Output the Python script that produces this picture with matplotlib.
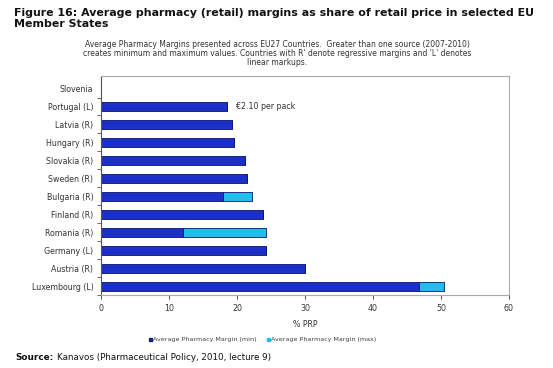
import matplotlib
matplotlib.use('Agg')
import matplotlib.pyplot as plt
import numpy as np

# Données (du bas vers le haut)
pays = ['Luxembourg (L)', 'Austria (R)', 'Germany (L)', 'Romania (R)', 'Finland (R)',
        'Bulgaria (R)', 'Sweden (R)', 'Slovakia (R)', 'Hungary (R)', 'Latvia (R)',
        'Portugal (L)', 'Slovenia']
marge_min = [46.8, 30.0, 24.2, 12.0, 23.8, 18.0, 21.5, 21.2, 19.6, 19.2, 18.5, 0]
marge_max = [50.4, 30.0, 24.2, 24.2, 23.8, 22.2, 21.5, 21.2, 19.6, 19.2, 18.5, 0]
graduations = [0, 10, 20, 30, 40, 50, 60]

bleu = '#1a30c8'
cyan = '#22bde8'
W, H = 553, 368

fig = plt.figure(figsize=(W / 100, H / 100), dpi=100)
ax = fig.add_axes([101 / W, 1 - 295 / H, 408 / W, 219 / H])

y = np.arange(len(pays))
ecart = np.array(marge_max) - np.array(marge_min)
ax.barh(y, marge_min, height=0.5, color=bleu, edgecolor='#0a1470', linewidth=0.6)
ax.barh(y, ecart, left=marge_min, height=0.5, color=cyan, edgecolor='#0a1470',
        linewidth=0.6)

ax.set_xlim(0, 60)
ax.set_ylim(-0.5, 11.7)
ax.set_xticks(graduations)
ax.set_yticks(y)
ax.set_yticklabels(pays)
ax.set_yticks(np.arange(-0.5, 11, 1), minor=True)
ax.tick_params(axis='y', which='major', length=0, labelsize=5.7, colors='#333333', pad=5.5)
ax.tick_params(axis='y', which='minor', length=3, color='#555555', width=0.6)
ax.tick_params(axis='x', labelsize=5.7, colors='#333333', length=3, width=0.6, pad=3.5)
for s in ['top', 'right', 'bottom']:
    ax.spines[s].set_color('#aaaaaa')
    ax.spines[s].set_linewidth(0.8)
ax.spines['left'].set_color('#555555')
ax.spines['left'].set_linewidth(0.8)
ax.set_xlabel('% PRP', fontsize=5.7, color='#333333', labelpad=5)

ax.text(19.9, 10, '€2.10 per pack', fontsize=5.7, color='#333333', va='center')

# Titre et textes
fig.text(14 / W, 1 - 18.5 / H, 'Figure 16: Average pharmacy (retail) margins as share of retail price in selected EU\nMember States',
         fontsize=7.9, fontweight='bold', va='center', ha='left', linespacing=1.2, color='#111111')
fig.text(277 / W, 1 - 53.5 / H,
         "Average Pharmacy Margins presented across EU27 Countries.  Greater than one source (2007-2010)\n"
         "creates minimum and maximum values. Countries with R' denote regressive margins and 'L' denotes\n"
         "linear markups.",
         fontsize=5.5, ha='center', va='center', color='#333333', linespacing=1.0)

# Légende
fig.legend([plt.Rectangle((0, 0), 1, 1, color='#1a2080'), plt.Rectangle((0, 0), 1, 1, color=cyan)],
           ['Average Pharmacy Margin (min)', 'Average Pharmacy Margin (max)'],
           loc='center', bbox_to_anchor=(263 / W, 1 - 340 / H), ncol=2, frameon=False,
           fontsize=4.6, handlelength=0.45, handleheight=0.45, handletextpad=0.2, columnspacing=1.6,
           labelcolor='#444444')

t = fig.text(15 / W, 1 - 357 / H, 'Source:', fontsize=6.4, fontweight='bold', va='center', color='#111111')
fig.canvas.draw()
bb = t.get_window_extent()
fig.text((bb.x1 + 4) / W, 1 - 357 / H, 'Kanavos (Pharmaceutical Policy, 2010, lecture 9)', fontsize=6.3,
         va='center', color='#111111')

fig.savefig('out.png', dpi=100)
